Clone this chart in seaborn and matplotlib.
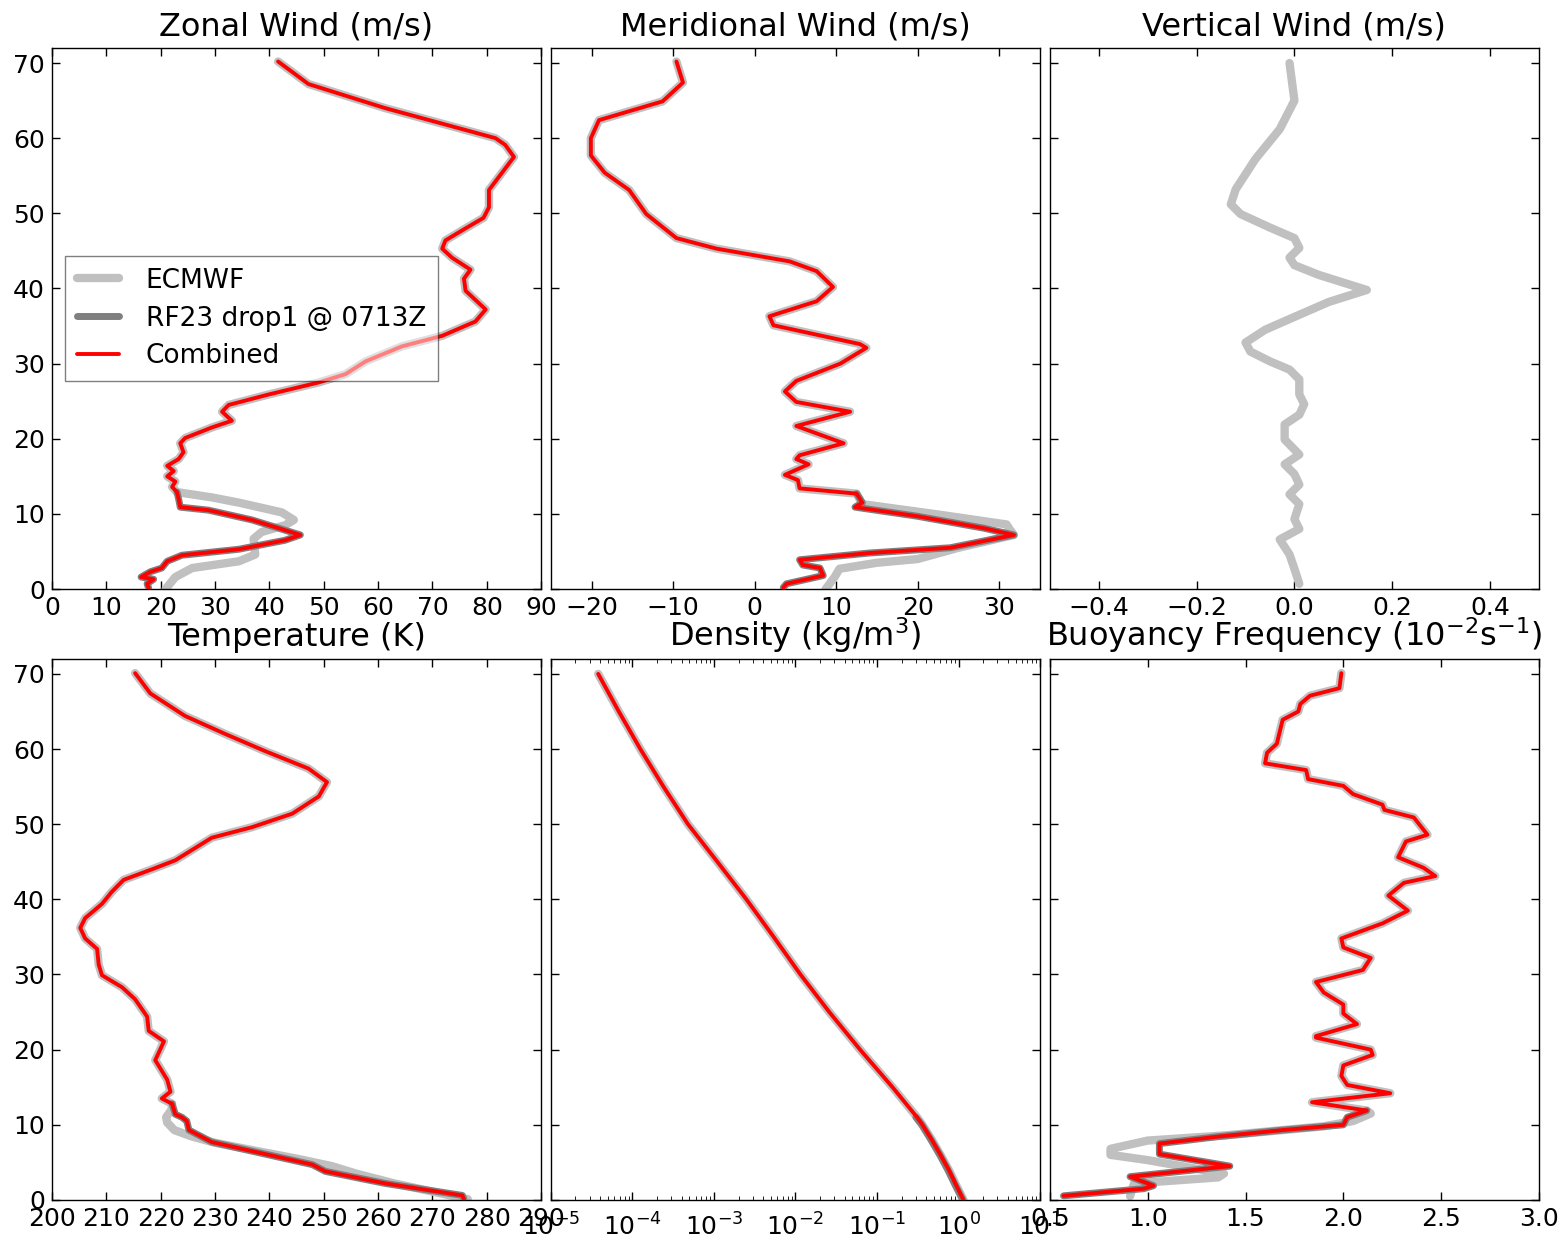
import numpy as np
import pandas as pd
import matplotlib
matplotlib.use("Agg")
import matplotlib.pyplot as plt
from matplotlib.lines import Line2D
from matplotlib.ticker import LogLocator, NullFormatter
import seaborn as sns

# ---------------- profile data (altitude in km) ----------------
# Zonal wind (m/s): common upper part, dropsonde and ECMWF lower parts
zonal_alt_upper = [12.9, 13.6, 14.3, 15.0, 15.7, 16.4, 17.3, 18.2, 19.4, 20.1, 21.5, 22.4, 23.6, 24.5,
                   25.9, 27.5, 28.6, 30.3, 32.3, 33.7, 35.6, 37.2, 39.7, 41.3, 42.5, 44.1, 45.3, 46.4,
                   48.0, 49.4, 50.8, 53.1, 55.4, 57.5, 59.1, 60.0, 64.0, 67.2, 70.2]
zonal_upper = [23.0, 22.1, 22.7, 21.2, 22.4, 21.2, 23.3, 24.2, 23.6, 24.5, 29.4, 33.1, 31.3, 32.5,
               39.9, 49.1, 54.0, 57.7, 64.4, 71.8, 77.9, 79.8, 76.1, 75.8, 77.0, 73.6, 71.8, 72.4,
               76.1, 79.4, 80.4, 80.4, 82.8, 85.0, 83.4, 81.6, 61.3, 47.2, 41.6]
zonal_alt_drop = [0.1, 0.7, 1.3, 1.6, 2.3, 2.8, 3.7, 4.5, 5.3, 6.5, 7.2, 8.1, 9.2, 10.5, 10.9, 12.0]
zonal_drop = [17.8, 17.5, 18.7, 16.4, 18.1, 20.2, 21.2, 23.9, 34.4, 42.9, 45.7, 41.7, 36.8, 28.8, 23.6, 23.3]
zonal_alt_ecmwf_low = [0.0, 1.6, 2.8, 3.7, 4.6, 6.7, 7.6, 8.5, 9.2, 10.2, 11.5, 12.2]
zonal_ecmwf_low = [20.9, 22.7, 25.8, 34.4, 37.4, 37.1, 38.6, 42.9, 44.5, 42.3, 34.4, 29.4]

# Meridional wind (m/s)
merid_alt_upper = [12.7, 13.4, 14.5, 15.2, 16.6, 17.3, 17.8, 19.4, 21.7, 23.6, 24.9, 26.3, 27.7, 30.0,
                   32.1, 32.6, 35.1, 36.3, 38.3, 40.2, 42.3, 43.6, 45.3, 46.7, 49.9, 53.1, 55.4, 57.7,
                   60.0, 62.4, 64.9, 67.4, 70.2]
merid_upper = [12.5, 5.5, 5.3, 3.7, 6.6, 5.1, 5.5, 10.9, 5.1, 11.7, 5.1, 3.7, 5.1, 10.5,
               13.7, 12.9, 2.3, 1.8, 7.6, 9.6, 7.6, 4.3, -4.7, -9.6, -13.3, -15.4, -18.4, -20.1,
               -20.1, -19.1, -11.3, -8.8, -9.6]
merid_alt_drop = [0.2, 0.7, 1.8, 2.8, 3.2, 3.9, 4.8, 5.5, 7.2, 8.1, 9.7, 10.9, 11.5]
merid_drop = [3.5, 3.9, 8.4, 8.0, 5.9, 5.5, 14.1, 24.0, 31.8, 28.1, 19.9, 12.3, 13.2]
merid_alt_ecmwf_low = [0.0, 1.6, 2.7, 3.5, 4.0, 5.5, 7.2, 7.9, 8.6, 10.0, 11.3]
merid_ecmwf_low = [8.7, 9.8, 10.4, 15.0, 20.0, 25.0, 31.8, 31.3, 30.9, 22.0, 13.2]

# Vertical wind (m/s), ECMWF only
vert_alt = [0.7, 2.7, 4.6, 6.6, 8.0, 9.3, 11.3, 12.6, 13.9, 15.3, 16.6, 17.9, 19.9, 21.9, 23.2,
            24.6, 25.9, 27.9, 29.2, 30.3, 31.6, 32.8, 34.5, 36.5, 38.2, 39.8, 41.8, 43.1, 44.1,
            45.4, 46.7, 48.1, 49.9, 51.2, 53.2, 57.2, 61.2, 65.0, 70.0]
vert_ecmwf = [0.01, 0.0, -0.01, -0.03, 0.01, 0.0, 0.01, -0.01, 0.01, 0.0, -0.02, 0.01, -0.02, -0.02, 0.01,
              0.02, 0.01, 0.01, -0.01, -0.05, -0.09, -0.10, -0.06, 0.01, 0.07, 0.148, 0.05, 0.0, -0.01,
              0.01, 0.0, -0.05, -0.11, -0.13, -0.12, -0.08, -0.03, 0.0, -0.01]

# Temperature (K)
temp_alt_upper = [12.8, 13.5, 14.4, 16.0, 18.6, 21.1, 22.5, 24.4, 26.7, 28.3, 29.9, 31.3, 33.4, 34.8,
                  36.2, 37.5, 39.4, 41.0, 42.6, 44.0, 45.2, 48.2, 49.6, 51.4, 53.7, 55.6, 57.4, 59.7,
                  62.0, 64.4, 67.4, 70.1]
temp_upper = [222.1, 220.2, 221.8, 221.2, 219.0, 220.6, 217.8, 217.5, 215.3, 212.9, 209.2, 208.6, 208.3, 206.1,
              205.2, 206.1, 209.2, 211.0, 213.2, 218.4, 222.7, 229.4, 236.8, 244.2, 249.1, 250.6, 247.2, 239.3,
              231.9, 224.5, 218.1, 215.3]
temp_alt_drop = [0.1, 0.6, 2.2, 3.8, 4.7, 6.3, 7.7, 9.3, 10.5, 11.0, 11.4]
temp_drop = [275.8, 275.5, 261.3, 250.3, 247.9, 238.0, 229.4, 225.2, 224.8, 223.9, 222.7]
temp_alt_ecmwf_low = [0.1, 2.2, 3.5, 4.5, 5.5, 6.4, 7.6, 8.5, 9.3, 10.3, 11.0, 12.0]
temp_ecmwf_low = [276.5, 263.0, 256.0, 251.5, 245.0, 238.5, 230.0, 225.5, 222.5, 221.2, 221.0, 222.0]

# Density (kg/m^3)
dens_alt = [0.0, 2.0, 4.0, 6.0, 8.0, 10.0, 11.0, 15.0, 20.0, 25.0, 30.0, 35.0, 40.0, 45.0,
            50.0, 55.0, 60.0, 65.0, 70.0]
dens_combined = [1.15, 0.93, 0.76, 0.60, 0.47, 0.36, 0.31, 0.155, 0.062, 0.026, 0.0115, 0.0054,
                 0.0025, 0.0011, 0.00048, 0.00024, 0.000125, 0.000068, 0.000038]
dens_alt_drop = [0.0, 2.0, 4.0, 6.0, 8.0, 10.0, 11.0]
dens_drop = [1.13, 0.91, 0.74, 0.59, 0.46, 0.355, 0.30]

# Buoyancy frequency (1e-2 1/s)
bv_alt_upper = [11.9, 13.0, 14.2, 15.3, 16.5, 17.9, 19.3, 20.0, 21.6, 21.8, 23.4, 24.8, 26.0, 27.6,
                29.0, 30.6, 32.2, 33.6, 34.8, 36.8, 38.5, 40.5, 42.2, 43.1, 44.2, 45.6, 47.7, 48.6,
                50.9, 51.9, 52.6, 54.0, 55.1, 56.0, 57.2, 58.1, 59.5, 60.7, 63.9, 65.0, 66.0, 67.1,
                68.1, 70.1]
bv_upper = [2.12, 1.84, 2.24, 2.02, 1.99, 2.00, 2.15, 2.14, 1.86, 1.86, 2.07, 2.00, 2.00, 1.90,
            1.86, 2.10, 2.14, 2.00, 1.99, 2.20, 2.33, 2.23, 2.31, 2.47, 2.41, 2.28, 2.32, 2.43,
            2.36, 2.21, 2.20, 2.05, 2.00, 1.82, 1.81, 1.60, 1.61, 1.66, 1.69, 1.77, 1.78, 1.83,
            1.98, 1.99]
bv_alt_drop = [0.55, 1.5, 1.9, 3.1, 4.5, 6.1, 7.5, 8.4, 9.3, 10.0, 11.0]
bv_drop = [0.57, 0.98, 1.03, 0.91, 1.42, 1.06, 1.06, 1.35, 1.69, 2.00, 2.02]
bv_alt_ecmwf_low = [0.5, 2.2, 3.0, 3.5, 5.3, 6.0, 6.8, 7.9, 8.6, 9.8, 10.5, 11.5]
bv_ecmwf_low = [0.91, 0.93, 1.36, 1.39, 1.00, 0.81, 0.81, 1.00, 1.40, 1.90, 2.05, 2.14]

series_names = ["ECMWF", "RF23 drop1 @ 0713Z", "Combined"]
series_colors = ["#c0c0c0", "#7f7f7f", "#ff0000"]
series_widths = [6.0, 5.0, 2.8]

# ---------------- style ----------------
sns.set_style("white", {
    "xtick.direction": "in", "ytick.direction": "in",
    "xtick.top": True, "ytick.right": True,
    "xtick.bottom": True, "ytick.left": True,
    "axes.edgecolor": "black", "axes.linewidth": 1.0,
    "text.color": "black", "axes.labelcolor": "black",
    "xtick.color": "black", "ytick.color": "black",
})
plt.rcParams["font.family"] = ["DejaVu Sans"]
plt.rcParams.update({
    "xtick.major.size": 6, "ytick.major.size": 6,
    "xtick.minor.size": 3, "ytick.minor.size": 3,
    "xtick.major.width": 1.0, "ytick.major.width": 1.0,
    "xtick.labelsize": 18, "ytick.labelsize": 18,
    "xtick.major.pad": 5, "ytick.major.pad": 5,
    "axes.titlesize": 23,
})

fig, axes = plt.subplots(2, 3, figsize=(15.61, 12.40), dpi=100, sharey=True)
fig.subplots_adjust(left=0.0333, right=0.9859, top=0.9613, bottom=0.0323,
                    wspace=0.02, hspace=0.129)


def draw(ax, values, alts, kind):
    idx = series_names.index(kind)
    df = pd.DataFrame({"value": values, "alt": alts})
    sns.lineplot(data=df, x="value", y="alt", sort=False, estimator=None, ax=ax,
                 color=series_colors[idx], linewidth=series_widths[idx],
                 zorder=2 + idx, legend=False)


def three_profiles(ax, alt_up, up, alt_drop, drop, alt_elow, elow):
    draw(ax, elow + up, alt_elow + alt_up, "ECMWF")
    draw(ax, drop + up[:1], alt_drop + alt_up[:1], "RF23 drop1 @ 0713Z")
    draw(ax, drop + up, alt_drop + alt_up, "Combined")


ax_u, ax_v, ax_w = axes[0]
ax_t, ax_r, ax_n = axes[1]

three_profiles(ax_u, zonal_alt_upper, zonal_upper, zonal_alt_drop, zonal_drop,
               zonal_alt_ecmwf_low, zonal_ecmwf_low)
three_profiles(ax_v, merid_alt_upper, merid_upper, merid_alt_drop, merid_drop,
               merid_alt_ecmwf_low, merid_ecmwf_low)
draw(ax_w, vert_ecmwf, vert_alt, "ECMWF")
three_profiles(ax_t, temp_alt_upper, temp_upper, temp_alt_drop, temp_drop,
               temp_alt_ecmwf_low, temp_ecmwf_low)

ax_r.set_xscale("log")
draw(ax_r, dens_combined, dens_alt, "ECMWF")
draw(ax_r, dens_drop, dens_alt_drop, "RF23 drop1 @ 0713Z")
draw(ax_r, dens_combined, dens_alt, "Combined")

three_profiles(ax_n, bv_alt_upper, bv_upper, bv_alt_drop, bv_drop,
               bv_alt_ecmwf_low, bv_ecmwf_low)

# ---------------- axes ----------------
titles = ["Zonal Wind (m/s)", "Meridional Wind (m/s)", "Vertical Wind (m/s)",
          "Temperature (K)", r"Density (kg/m$^3$)",
          r"Buoyancy Frequency ($10^{-2}$s$^{-1}$)"]
for ax, title in zip(axes.flat, titles):
    ax.set_title(title, pad=9, color="black")
    ax.set_xlabel("")
    ax.set_ylabel("")
    ax.set_ylim(0, 72)
    ax.set_yticks(np.arange(0, 71, 10))
    ax.tick_params(which="both", top=True, right=True, direction="in", colors="black")
    for sp in ax.spines.values():
        sp.set_visible(True)
        sp.set_color("black")
        sp.set_linewidth(1.0)

ax_u.set_xlim(0, 90)
ax_u.set_xticks(np.arange(0, 91, 10))
ax_v.set_xlim(-25, 35)
ax_v.set_xticks(np.arange(-20, 31, 10))
ax_w.set_xlim(-0.5, 0.5)
ax_w.set_xticks([-0.4, -0.2, 0.0, 0.2, 0.4])
ax_t.set_xlim(200, 290)
ax_t.set_xticks(np.arange(200, 291, 10))
ax_r.set_xlim(1e-5, 1e1)
ax_r.xaxis.set_major_locator(LogLocator(base=10, numticks=20))
ax_r.xaxis.set_minor_locator(LogLocator(base=10, subs=np.arange(2, 10), numticks=100))
ax_r.xaxis.set_minor_formatter(NullFormatter())
ax_r.tick_params(axis="x", which="major", pad=10)
ax_n.set_xlim(0.5, 3.0)
ax_n.set_xticks(np.arange(0.5, 3.01, 0.5))

handles = [Line2D([], [], color=c, lw=w) for c, w in zip(series_colors, series_widths)]
leg = ax_u.legend(handles, series_names, loc="center left", fontsize=19,
                  frameon=True, fancybox=False, framealpha=0.5, edgecolor="black",
                  handlelength=1.6, handletextpad=1.0, labelspacing=0.45,
                  borderpad=0.45)
leg.get_frame().set_linewidth(1.0)

fig.savefig("out.png", dpi=100)
